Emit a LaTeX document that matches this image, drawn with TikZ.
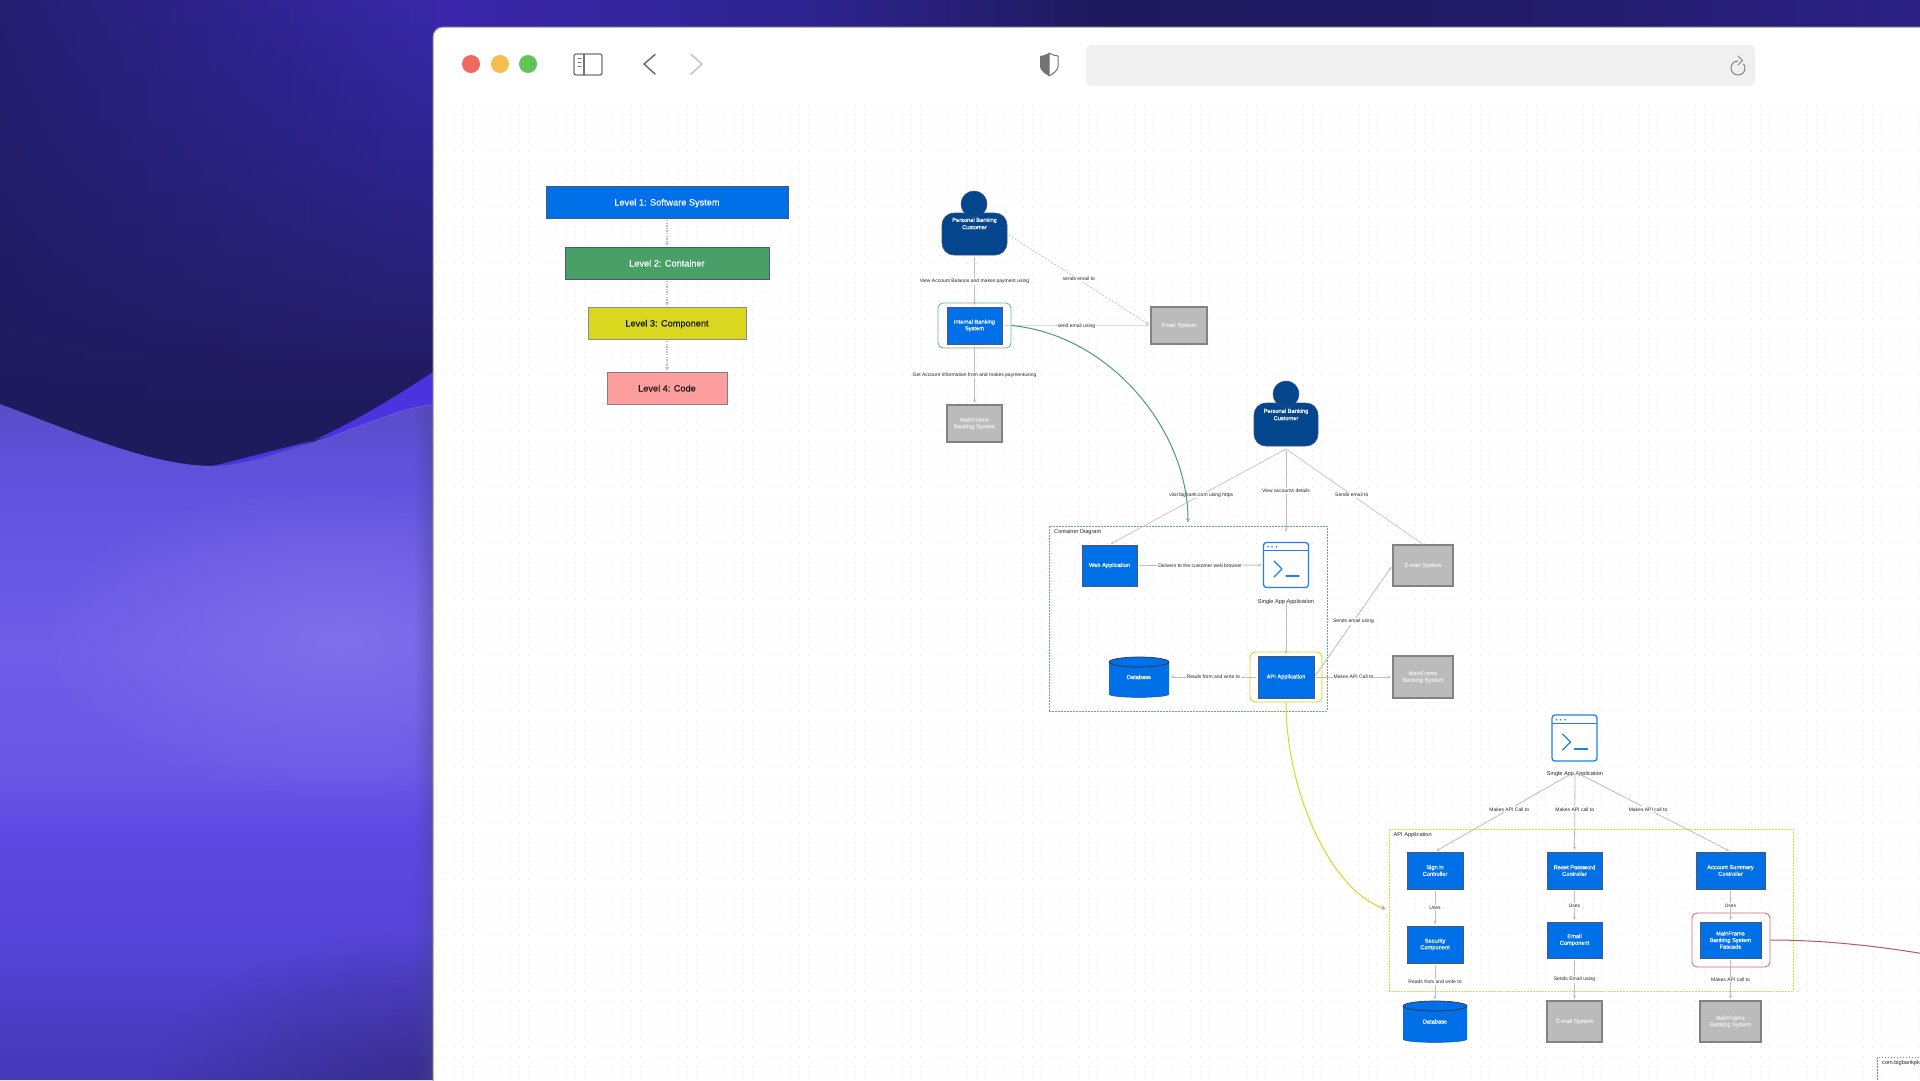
\documentclass[tikz,border=0pt]{standalone}
\usepackage{fontspec}
\setmainfont{Liberation Sans}
\newfontfamily\medf[FakeBold=0.25]{Liberation Sans}
\usetikzlibrary{arrows.meta,fadings,shapes.geometric}
\definecolor{sysblue}{HTML}{0070E8}
\definecolor{sysedge}{HTML}{4A5870}
\definecolor{extgray}{HTML}{BBBBBB}
\definecolor{extedge}{HTML}{828282}
\definecolor{navy}{HTML}{04468E}
\definecolor{lvlgreen}{HTML}{48A068}
\definecolor{lvlyellow}{HTML}{D9D81E}
\definecolor{lvlred}{HTML}{FF9E9E}
\definecolor{hlgreen}{HTML}{6FB98C}
\definecolor{hlred}{HTML}{CC6E74}
\definecolor{termblue}{HTML}{1E7FF0}
\definecolor{wirec}{HTML}{BDBDBD}
\definecolor{tlred}{HTML}{EE6A5F}\definecolor{tlamb}{HTML}{F5BD4F}\definecolor{tlgrn}{HTML}{61C454}
\definecolor{slv}{HTML}{4B33DE}
\definecolor{tA}{HTML}{2A2270}\definecolor{tB}{HTML}{3A25AB}\definecolor{tC}{HTML}{2E2490}
\definecolor{tD}{HTML}{1F1A5E}\definecolor{tE}{HTML}{221B68}\definecolor{tF}{HTML}{2C2085}
\definecolor{uA}{HTML}{3828A8}\definecolor{uB}{HTML}{2F2592}\definecolor{uC}{HTML}{282074}
\definecolor{uD}{HTML}{201A5C}\definecolor{uE}{HTML}{1F1A58}
\definecolor{lA}{HTML}{4537B6}\definecolor{lB}{HTML}{5543D6}\definecolor{lC}{HTML}{6048E2}
\definecolor{lD}{HTML}{6A57E6}\definecolor{lE}{HTML}{6F5DE8}\definecolor{lF}{HTML}{6152DE}\definecolor{lG}{HTML}{5A4CC8}
\definecolor{glowc}{HTML}{8673EC}
\definecolor{shadowc}{HTML}{4A4490}
\pgfdeclarehorizontalshading{topband}{100bp}{color(0bp)=(tA);color(25bp)=(tA);color(36.3bp)=(tB);color(45.8bp)=(tC);color(53.6bp)=(tD);color(64bp)=(tE);color(75bp)=(tF);color(100bp)=(tF)}
\pgfdeclareverticalshading{upperbg}{100bp}{color(0bp)=(uE);color(25bp)=(uE);color(33.3bp)=(uD);color(43.7bp)=(uC);color(59.4bp)=(uB);color(75bp)=(uA);color(100bp)=(uA)}
\pgfdeclareverticalshading{lowerbg}{100bp}{color(0bp)=(lA);color(25bp)=(lA);color(34.6bp)=(lB);color(43.5bp)=(lC);color(47.5bp)=(lD);color(56.8bp)=(lE);color(69.4bp)=(lF);color(75bp)=(lG);color(100bp)=(lG)}
\tikzfading[name=fadetoright,left color=transparent!25,right color=transparent!100]
\tikzfading[name=fadefromright,left color=transparent!100,right color=transparent!55]
\tikzfading[name=glowfade,inner color=transparent!20,outer color=transparent!100]
\tikzfading[name=cornerfade,inner color=transparent!60,outer color=transparent!100]
\tikzset{
  wh/.style 2 args={minimum width=#1,minimum height=#2},
  sysbox/.style={draw=sysedge,fill=sysblue,line width=0.9,text=white,align=center,inner sep=0,font=\medf\fontsize{5.7}{6.6}\selectfont},
  extbox/.style={draw=extedge,fill=extgray,line width=1.2,text=black!8,align=center,inner sep=0,font=\medf\fontsize{5.7}{6.6}\selectfont},
  lvlbox/.style={draw=sysedge,line width=0.8,inner sep=0,text height=7,text depth=0,font=\medf\fontsize{9.2}{11}\selectfont},
  lab/.style={fill=white,inner sep=1,text=black!85,font=\fontsize{5}{5.8}\selectfont},
  conn/.style={draw=wirec,line width=0.8,shorten <=1.5pt,shorten >=1.5pt,-{Stealth[length=3.5pt,width=3pt]}},
  plainconn/.style={draw=wirec!80,line width=0.8},
  lvlconn/.style={draw=black!25,line width=1.1,dash pattern=on 1.4pt off 1.2pt,shorten <=1.5pt,shorten >=1pt,-{Stealth[length=3.5pt,width=4pt]}},
  halo/.style={draw=#1,line width=0.9,rounded corners=5,fill=none,inner sep=0},
  framebox/.style={draw=#1,line width=0.8,dash pattern=on 1.6pt off 1.4pt,fill=none,inner sep=0},
  framelab/.style={anchor=west,inner sep=0,text=black!85,font=\fontsize{5.6}{6.5}\selectfont},
  person/.style={fill=navy,draw=sysedge!70!navy,line width=0.6,inner sep=0},
  persontext/.style={text=white,align=center,inner sep=0,font=\medf\fontsize{5.7}{7.3}\selectfont},
  chrome/.style={draw=black!55,line width=1.3,line cap=round,line join=round},
}
\newcommand{\dbcyl}[6]{%
  \begin{scope}[shift={(#2,#3)}]
    \fill[sysblue] (-#4,-#5+5) -- (-#4,#5-3) .. controls (-#4,#5+1.5) and (#4,#5+1.5) .. (#4,#5-3) -- (#4,-#5+5) -- cycle;
    \draw[sysblue!70!black,line width=0.4] (-#4,#5-3) .. controls (-#4,#5+1.5) and (#4,#5+1.5) .. (#4,#5-3);
    \draw[fill=sysblue,draw=black!80,line width=0.7] (0,-#5+5) ellipse ({#4} and 5);
  \end{scope}
  \node[wh={2*#4}{2*#5},inner sep=0,text=white,font=\medf\fontsize{5.7}{6.6}\selectfont] (#1) at (#2,#3) {#6};}
\newcommand{\termicon}[5]{%
  \node[draw=termblue,line width=1.3,rounded corners=3,fill=white,wh={#4}{#5},inner sep=0] (#1) at (#2,#3) {};
  \begin{scope}[shift={(#2,#3)}]
    \draw[termblue,line width=0.9] ({-0.5*#4},-15) -- ({0.5*#4},-15);
    \fill[termblue] (-18,-18.3) circle (0.9) (-14,-18.3) circle (0.9) (-9.5,-18.3) circle (0.9);
    \draw[termblue,line width=1.3,line cap=round,line join=round] (-12,-4) -- (-4,4) -- (-12,12);
    \draw[termblue,line width=1.2,line cap=round] (0,11) -- (13,11);
  \end{scope}}
\begin{document}
\begin{tikzpicture}[x=1pt,y=-1pt]
\useasboundingbox (0,0) rectangle (1920,1080);
\clip (0,0) rectangle (1920,1080);
% wallpaper
\shade[shading=topband] (0,0) rectangle (1920,40);
\shade[shading=upperbg] (0,0) rectangle (433,480);
\fill[tD,path fading=fadetoright] (0,0) rectangle (433,480);
\fill[slv] (213,466) .. controls (280,466) and (360,420) .. (433,372) -- (433,410) -- cycle;
\begin{scope}
  \clip (0,404) .. controls (70,430) and (150,466) .. (213,466) .. controls (245,466) and (285,450) .. (317,441) .. controls (350,432) and (400,407) .. (433,405) -- (433,1080) -- (0,1080) -- cycle;
  \shade[shading=lowerbg] (0,404) rectangle (433,1080);
  \fill[glowc,path fading=glowfade] (340,640) ellipse (300 and 160);
  \fill[black!60!lG,path fading=cornerfade] (433,1080) ellipse (280 and 150);
  \fill[shadowc,path fading=fadefromright] (414,404) rectangle (433,1080);
\end{scope}
\draw[lG,line width=0.6] (213,466) .. controls (245,466) and (285,450) .. (317,441);
\draw[lD,line width=0.9] (317,441) .. controls (350,432) and (400,407) .. (433,405);
% window
\draw[draw=black!42,line width=1,fill=white,rounded corners=10] (433,1200) -- (433,27) -- (2000,27) -- (2000,1200) -- cycle;
\foreach \r in {0,...,104} {
  \draw[black!12,line width=1,dash pattern=on 1pt off 8.33pt] (435,{105.3+9.33*\r}) -- (1920,{105.3+9.33*\r});
}
% toolbar
\node[circle,fill=tlred,minimum size=18,inner sep=0] (tlr) at (471,64) {};
\node[circle,fill=tlamb,minimum size=18,inner sep=0] (tla) at (500,64) {};
\node[circle,fill=tlgrn,minimum size=18,inner sep=0] (tlg) at (528,64) {};
\draw[chrome,rounded corners=2] (574,54) rectangle (602,75);
\draw[chrome] (584,54) -- (584,75);
\draw[chrome,line width=1] (578,58) -- (581,58) (578,62) -- (581,62) (578,66) -- (581,66);
\draw[chrome,line width=1.6] (655,54.5) -- (644,64) -- (655,74);
\draw[chrome,line width=1.6,draw=black!22] (691,54.5) -- (702,64) -- (691,74);
\fill[black!55] (1049,53) .. controls (1045,55) and (1042,56) .. (1040,56) -- (1040,67) .. controls (1041,71) and (1045,74) .. (1049,76) -- cycle;
\draw[black!55,line width=1,line join=round] (1049,53) .. controls (1053,55) and (1056,56) .. (1058,56) -- (1058,67) .. controls (1057,71) and (1053,74) .. (1049,76) -- cycle;
\fill[black!6,rounded corners=5] (1086,45) rectangle (1755,86);
\draw[black!50,line width=1,line cap=round] (1738,61) .. controls (1734,61) and (1731,64) .. (1731,68) .. controls (1731,72) and (1734,75) .. (1738,75) .. controls (1742,75) and (1745,72) .. (1745,68) .. controls (1745,66.5) and (1744.5,65) .. (1743.5,64);
\draw[black!50,line width=1,line cap=round,line join=round] (1738,56) -- (1742.5,60.5) -- (1738,65);
% level legend
\node[lvlbox,fill=sysblue,text=white,wh={242}{32}] (l1) at (667,202) {Level 1: Software System};
\node[lvlbox,fill=lvlgreen,text=white,wh={204}{32}] (l2) at (667,263) {Level 2: Container};
\node[lvlbox,draw=black!45,fill=lvlyellow,text=black!90,wh={158}{32}] (l3) at (667,323) {Level 3: Component};
\node[lvlbox,draw=black!50,fill=lvlred,text=black!90,wh={120}{32}] (l4) at (667,388) {Level 4: Code};
\draw[lvlconn] (l1) -- (l2);
\draw[lvlconn] (l2) -- (l3);
\draw[lvlconn] (l3) -- (l4);
% ---- system context
\node[person,rounded corners=12,wh={65}{42}] (c1) at (974.5,234) {};
\node[person,circle,minimum size=26] (c1h) at (974,204) {};
\node[persontext] (c1t) at (974.5,223.5) {Personal Banking\\Customer};
\node[sysbox,wh={55}{37}] (ibs) at (974.5,325.5) {Internal Banking\\System};
\node[halo=hlgreen,wh={73}{45}] (ibsh) at (974.5,325.5) {};
\node[extbox,wh={56}{37}] (em1) at (1179,325.5) {Email System};
\node[extbox,wh={55}{37}] (mf1) at (974.5,423.5) {MainFrame\\Banking System};
\draw[conn] (c1) -- node[lab,yshift=-0.7pt] {View Account Balance and makes payment using} (ibs);
\draw[conn] (ibs) -- node[lab,yshift=-0.7pt] {Get Account Information from and makes paymentusing} (mf1);
\draw[conn,draw=black!14,line width=1.2] (ibs) -- node[lab,yshift=-0.4pt] {send email using} (em1);
\draw[conn,draw=black!24,dash pattern=on 2pt off 1.6pt] (c1.east) -- node[lab,pos=0.5,yshift=0.8pt] {sends email to} (em1.west);
% ---- container diagram
\node[framebox=lvlgreen!85!white,wh={278}{185}] (cont) at (1188,618.5) {};
\node[framelab] (contl) at (1054,532.5) {Container Diagram};
\node[person,rounded corners=12,wh={64}{43}] (c2) at (1286,424.5) {};
\node[person,circle,minimum size=26] (c2h) at (1286,394) {};
\node[persontext] (c2t) at (1286,414.5) {Personal Banking\\Customer};
\coordinate (c2a) at (1286,449);
\node[sysbox,wh={55}{41}] (web) at (1109.5,565.5) {Web Application};
\termicon{t1}{1286}{565}{45}{45}
\node[framelab,anchor=center,inner sep=0] (t1l) at (1286,602.5) {Single App Application};
\dbcyl{db1}{1139}{677}{30}{20}{Database}
\node[sysbox,wh={56}{42}] (api) at (1286,677) {API Application};
\node[halo=lvlyellow,wh={72}{50}] (apih) at (1286,677) {};
\node[extbox,wh={60}{41}] (em2) at (1423,565.5) {E-mail System};
\node[extbox,wh={60}{42}] (mf2) at (1423,677) {MainFrame\\Banking System};
\draw[plainconn,shorten >=1pt,-{Stealth[length=3.5pt,width=3pt]}] (c2a) -- node[lab,pos=0.48] {visit bigbank.com using https} (web.north);
\draw[conn,shorten >=10pt] (c2a) -- node[lab,pos=0.45] {View accounts details} (t1.north);
\draw[plainconn] (c2a) -- node[lab,pos=0.48] {Sends email to} (em2.north);
\draw[conn] (web) -- node[lab] {Delivers to the customer web browser} (t1);
\draw[conn] (t1l.north) -- (api.north);
\draw[conn] (api) -- node[lab] {Reads from and write to} (db1);
\draw[conn] (api) -- node[lab] {Makes API Call to} (mf2);
\draw[conn] (api.east) -- node[lab] {Sends email using} (em2.west);
% ---- component diagram
\node[framebox=lvlyellow!85!white,wh={404}{162}] (apif) at (1591,910) {};
\node[framelab] (apifl) at (1393.5,835) {API Application};
\termicon{t2}{1574.5}{738}{45}{46}
\node[framelab,anchor=center,inner sep=0] (t2l) at (1575,774.5) {Single App Application};
\node[sysbox,wh={56}{37}] (sg) at (1435,870.5) {Sign in\\Controller};
\node[sysbox,wh={55}{37}] (rs) at (1574.5,870.5) {Reset Password\\Controller};
\node[sysbox,wh={69}{37}] (ac) at (1730.5,870.5) {Account Summary\\Controller};
\node[sysbox,wh={56}{37}] (sc) at (1435,944.5) {Security\\Component};
\node[sysbox,wh={55}{36}] (ec) at (1574.5,940) {Email\\Component};
\node[sysbox,wh={61}{36}] (fc) at (1730.5,940) {MainFrame\\Banking System\\Fascade};
\node[halo=hlred,wh={78}{54}] (fch) at (1731,940) {};
\dbcyl{db3}{1435}{1021.5}{32}{20.5}{Database}
\node[extbox,wh={55}{41}] (em3) at (1574.5,1021.5) {E-mail System};
\node[extbox,wh={61}{41}] (mf3) at (1730.5,1021.5) {MainFrame\\Banking System};
\draw[conn] (t2l.north) -- node[lab,pos=0.47] {Makes API Call to} (sg.north);
\draw[conn] (t2l.north) -- node[lab,pos=0.47] {Makes API call to} (rs.north);
\draw[conn] (t2l.north) -- node[lab,pos=0.47] {Makes API call to} (ac.north);
\draw[conn] (sg) -- node[lab] {Uses} (sc);
\draw[conn] (rs) -- node[lab] {Uses} (ec);
\draw[conn] (ac) -- node[lab] {Uses} (fc);
\draw[conn] (sc) -- node[lab] {Reads from and write to} (db3);
\draw[conn] (ec) -- node[lab] {Sends Email using} (em3);
\draw[conn] (fc) -- node[lab] {Makes API call to} (mf3);
% ---- level links
\draw[draw=lvlgreen,line width=1,shorten >=3pt,-{Stealth[length=4.5pt,width=4.5pt,color=black!35]}] (ibsh.east) .. controls (1110,335) and (1188,430) .. (cont.north);
\draw[draw=lvlyellow,line width=1,shorten >=3pt,-{Stealth[length=4.5pt,width=4.5pt,color=black!35]}] (apih.south) .. controls (1286,790) and (1330,890) .. (apif.west);
\coordinate (redend) at (1925,954);
\draw[draw=hlred!85!black,line width=1] (fch.east) .. controls (1820,940) and (1870,945) .. (redend);
\node[framebox=hlred!90!red,anchor=north west,wh={120}{60}] (nxt) at (1877,1057) {};
\node[framelab] (nxtl) at (1882,1063) {com.bigbankpk};
\end{tikzpicture}
\end{document}
